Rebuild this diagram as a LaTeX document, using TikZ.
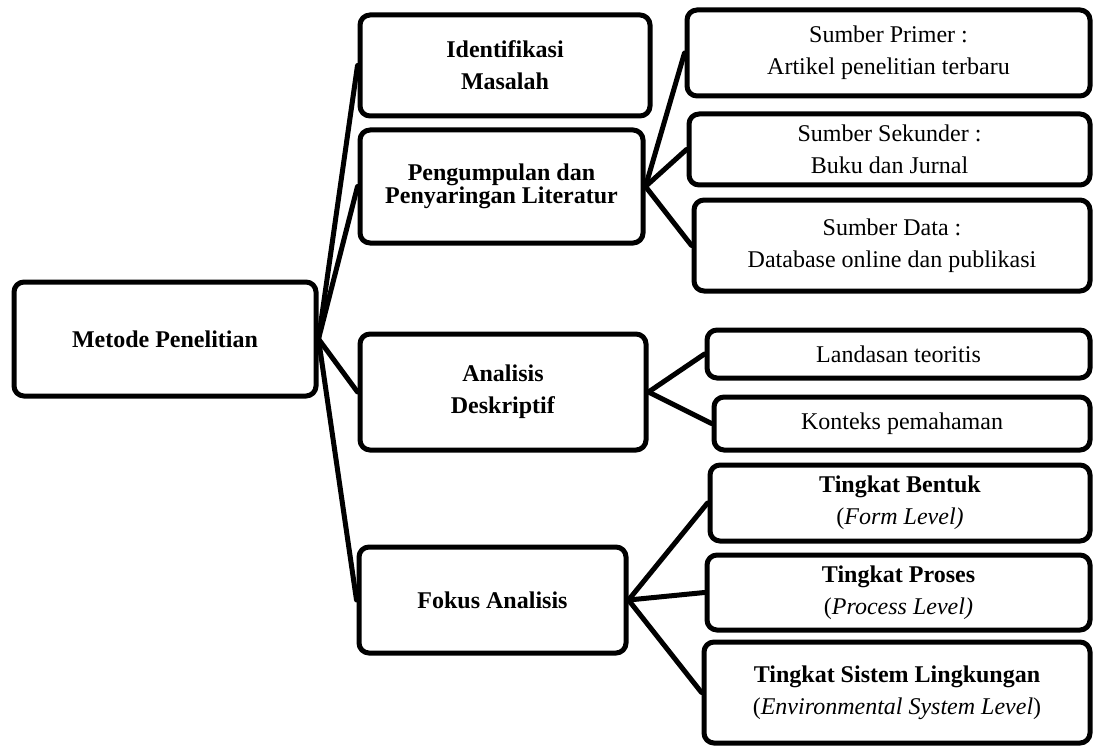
\documentclass[tikz,border=0pt]{standalone}
\usepackage{fontspec}
\setmainfont{Liberation Serif}
\begin{document}
\begin{tikzpicture}[x=1pt,y=-1pt,
  box/.style={draw, line width=5pt, rounded corners=10pt, align=center, inner sep=0pt,
              font=\fontsize{24}{32}\selectfont},
  link/.style={line width=5pt, line cap=round}]
\useasboundingbox (0,0) rectangle (1094,746);
% main
\node[box, minimum width=302pt, minimum height=114pt] (metode) at (165,339) {\textbf{Metode Penelitian}};
% level 1
\node[box, minimum width=290pt, minimum height=101pt] (ident) at (505,65.5) {\textbf{Identifikasi}\\\textbf{Masalah}};
\node[box, minimum width=283pt, minimum height=113pt, font=\fontsize{24}{20}\selectfont] (pengump) at (501.5,186.5) {\textbf{Pengumpulan dan}\\\textbf{Penyaringan Literatur}};
\node[box, minimum width=286pt, minimum height=116pt] (analisis) at (503,392) {\textbf{Analisis}\\\textbf{Deskriptif}};
\node[box, minimum width=267pt, minimum height=106pt] (fokus) at (492.5,600) {\textbf{Fokus Analisis}};
% level 2
\node[box, minimum width=403pt, minimum height=86pt] (primer) at (888.5,53) {Sumber Primer :\\Artikel penelitian terbaru};
\node[box, minimum width=401pt, minimum height=71pt] (sekunder) at (889.5,149.5) {Sumber Sekunder :\\Buku dan Jurnal};
\node[box, minimum width=396pt, minimum height=91pt] (data) at (892,245.5) {Sumber Data :\\Database online dan publikasi};
\node[box, minimum width=383pt, minimum height=48pt] (landasan) at (898.5,354) {Landasan teoritis};
\node[box, minimum width=376pt, minimum height=53pt] (konteks) at (902,423.5) {Konteks pemahaman};
\node[box, minimum width=380pt, minimum height=76pt] (bentuk) at (900,503) {\textbf{Tingkat Bentuk}\\(\textit{Form Level)}};
\node[box, minimum width=383pt, minimum height=75pt] (proses) at (898.5,592.5) {\textbf{Tingkat Proses}\\(\textit{Process Level)}};
\node[box, minimum width=386pt, minimum height=101pt] (sistem) at (897,692.5) {\textbf{Tingkat Sistem Lingkungan}\\(\textit{Environmental System Level})};
% connectors
\foreach \t in {ident,pengump,analisis,fokus} \draw[link] (metode.east) -- (\t.west);
\foreach \t in {primer,sekunder,data} \draw[link] (pengump.east) -- (\t.west);
\foreach \t in {landasan,konteks} \draw[link] (analisis.east) -- (\t.west);
\foreach \t in {bentuk,proses,sistem} \draw[link] (fokus.east) -- (\t.west);
\end{tikzpicture}
\end{document}
